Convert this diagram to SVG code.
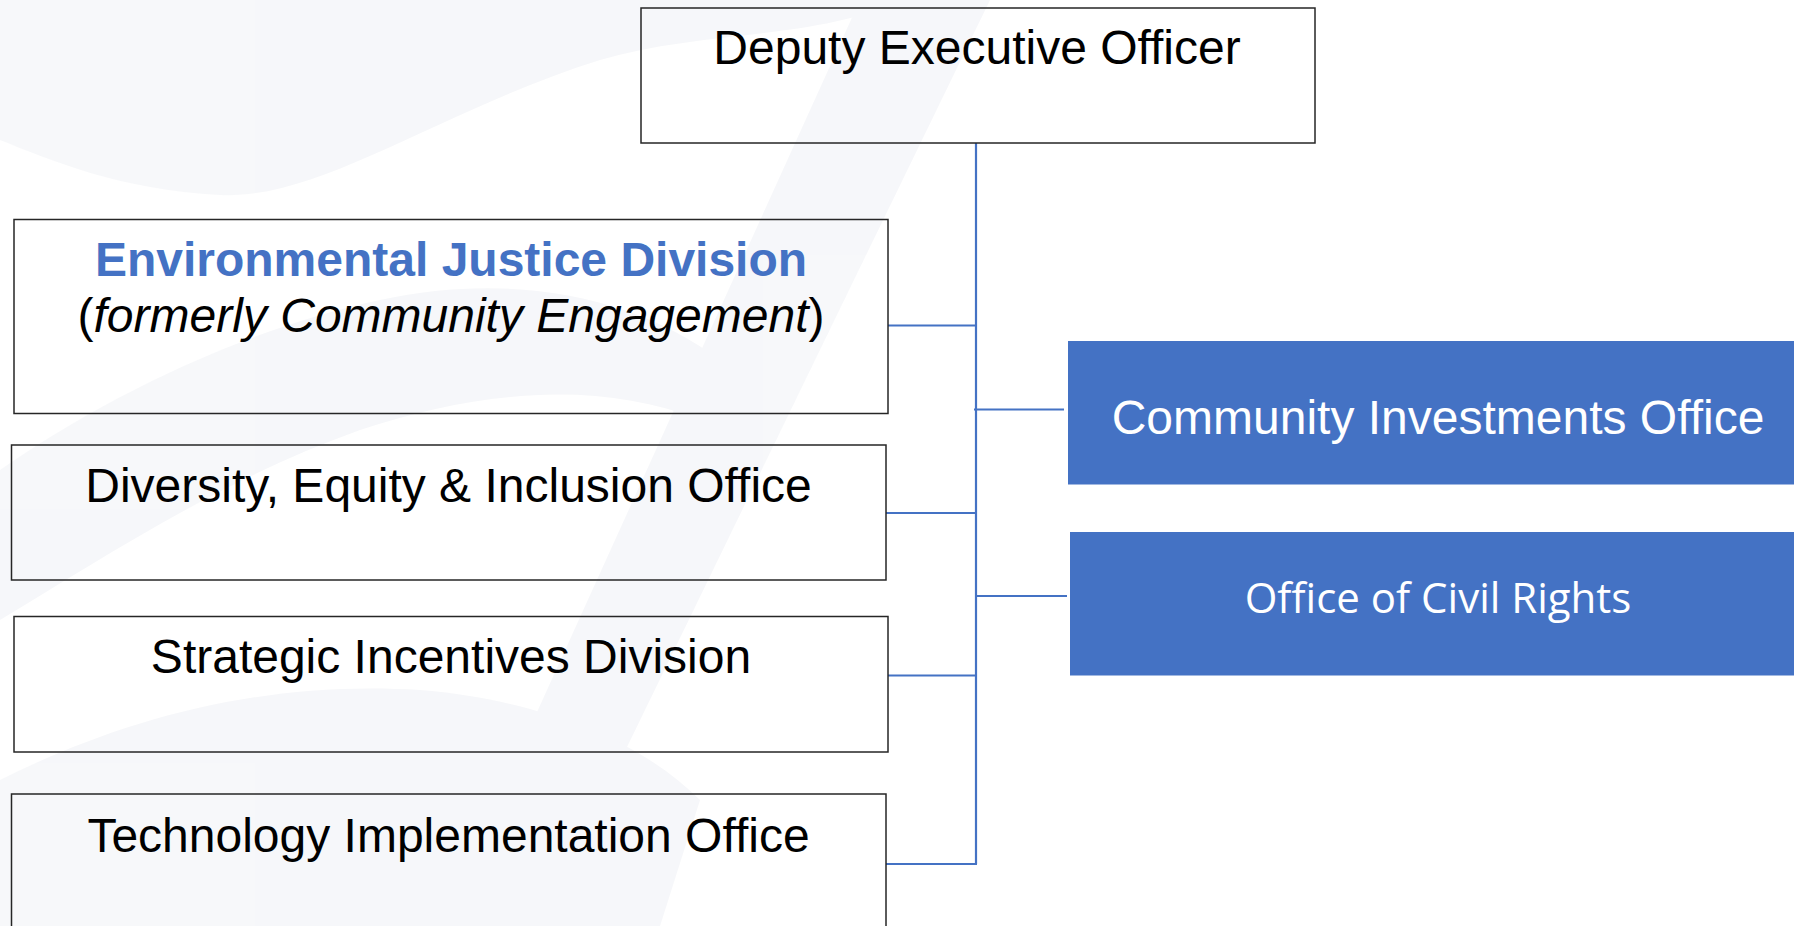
<svg xmlns="http://www.w3.org/2000/svg" width="1794" height="926" viewBox="0 0 1794 926">
<style>
.box{fill:none;stroke:#262626;stroke-width:1.5}
.fill{fill:#4472C4}
.t{font-family:"Liberation Sans",Arial,sans-serif;font-size:48px;fill:#000;text-anchor:middle}
.w{font-family:"Liberation Sans",Arial,sans-serif;font-size:48px;fill:#fff;text-anchor:middle}
.c{font-family:"Open Sans","Noto Sans",sans-serif;font-size:42px;fill:#fff;text-anchor:middle}
.con{stroke:#4472C4;stroke-width:2.2;fill:none}
.bg{fill:#f5f6f9}
</style>
<rect width="1794" height="926" fill="#ffffff"/>
<g id="background" opacity="0.8">
<path class="bg" d="M0,0 H900 C820,40 700,30 600,60 C440,110 320,200 220,195 C120,190 50,160 0,140 Z"/>
<path class="bg" d="M0,470 C100,400 240,330 380,300 C520,270 640,300 720,360 L700,420 C600,380 480,390 360,430 C220,480 100,560 0,620 Z"/>
<path class="bg" d="M860,0 H990 L540,926 H440 Z"/>
<path class="bg" d="M0,780 C120,720 260,680 420,690 C540,700 640,740 700,800 L660,926 H0 Z"/>
</g>
<g id="connectors">
<line class="con" x1="976" y1="143" x2="976" y2="864"/>
<line class="con" x1="888" y1="325.5" x2="976" y2="325.5"/>
<line class="con" x1="974" y1="409.5" x2="1064" y2="409.5"/>
<line class="con" x1="886" y1="513" x2="976" y2="513"/>
<line class="con" x1="976" y1="596" x2="1067" y2="596"/>
<line class="con" x1="888" y1="675.5" x2="976" y2="675.5"/>
<line class="con" x1="886" y1="864" x2="977" y2="864"/>
</g>
<g id="deputy">
<rect class="box" x="641" y="8" width="674" height="135" fill="#fff"/>
<text class="t" x="977" y="64">Deputy Executive Officer</text>
</g>
<g id="ej">
<rect class="box" x="14" y="219.5" width="874" height="194"/>
<text class="t" x="451" y="276" font-weight="bold" style="fill:#4472C4">Environmental Justice Division</text>
<text class="t" x="451" y="332">(<tspan font-style="italic">formerly Community Engagement</tspan>)</text>
</g>
<g id="dei">
<rect class="box" x="11.5" y="445" width="874.5" height="135"/>
<text class="t" x="448.5" y="502">Diversity, Equity &amp; Inclusion Office</text>
</g>
<g id="strategic">
<rect class="box" x="14" y="616.5" width="874" height="135.5"/>
<text class="t" x="451" y="672.5">Strategic Incentives Division</text>
</g>
<g id="technology">
<rect class="box" x="11.5" y="794" width="874.5" height="140"/>
<text class="t" x="448.5" y="851.5">Technology Implementation Office</text>
</g>
<g id="community">
<rect class="fill" x="1068" y="341" width="726" height="143.5"/>
<text class="w" x="1438" y="434">Community Investments Office</text>
</g>
<g id="civil">
<rect class="fill" x="1070" y="532" width="724" height="143.5"/>
<text class="c" x="1438" y="613">Office of Civil Rights</text>
</g>
</svg>
